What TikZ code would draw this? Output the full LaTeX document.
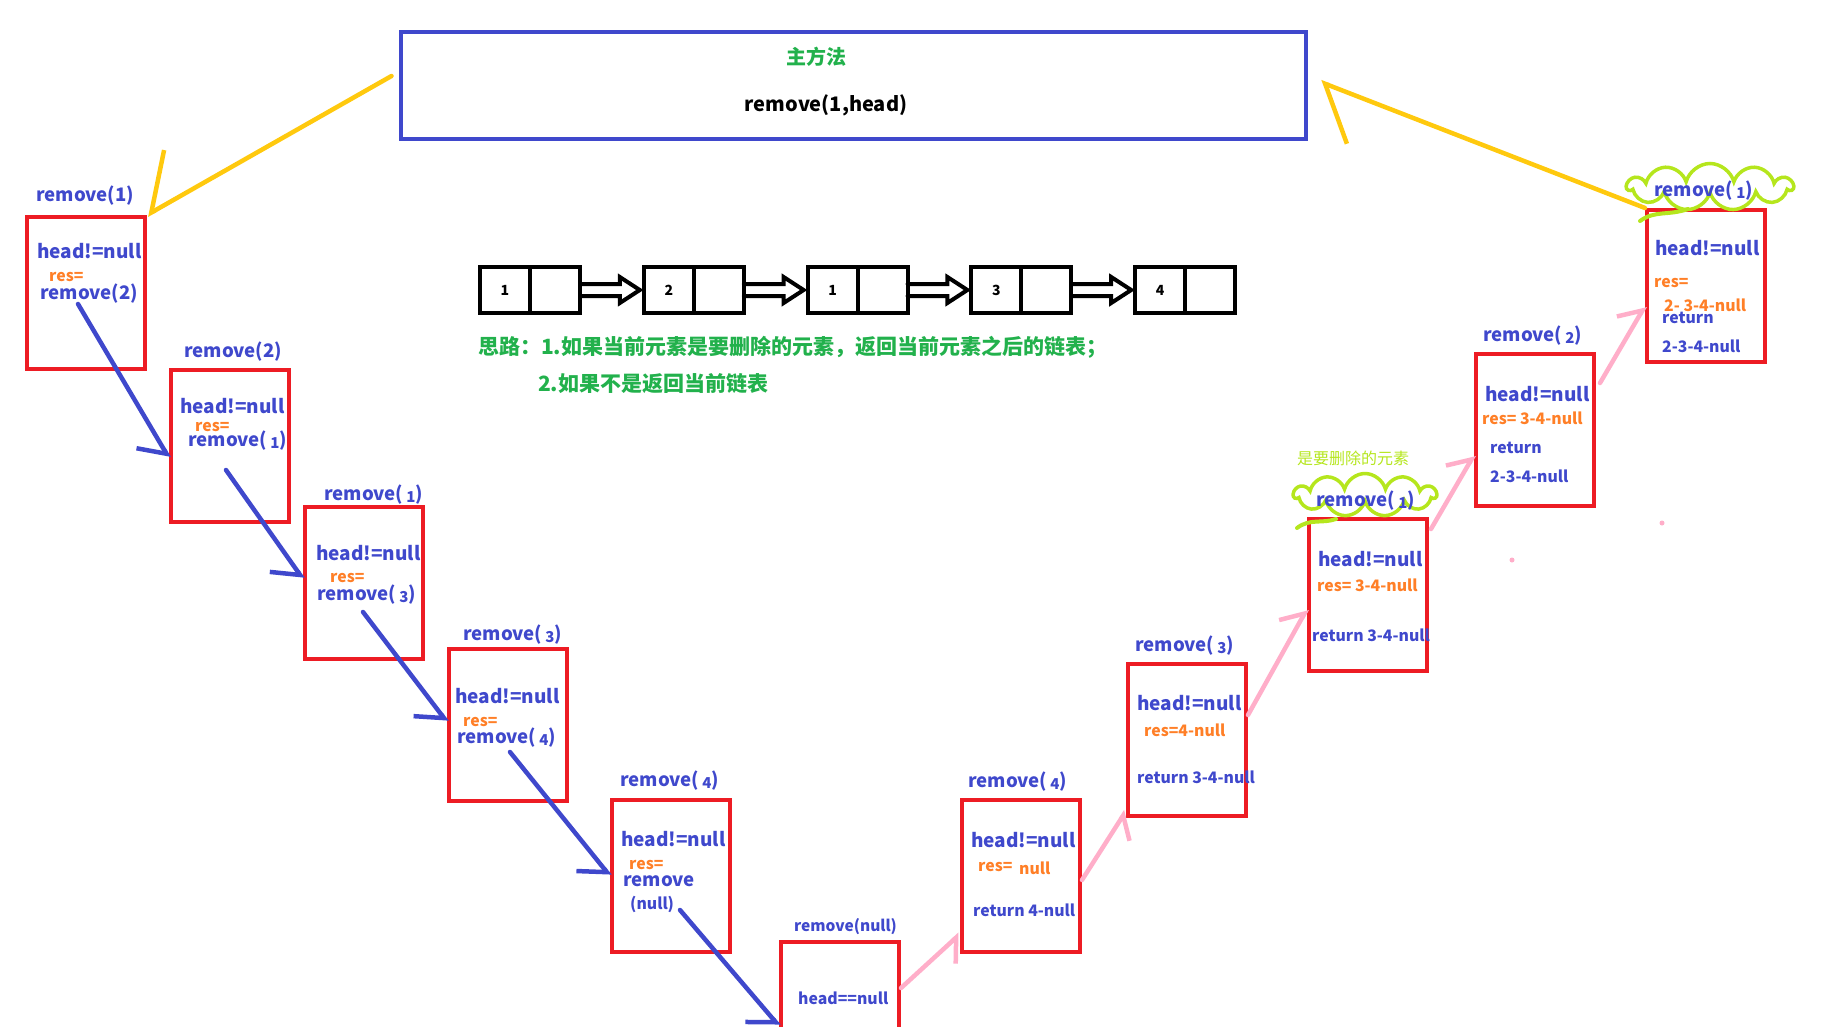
\documentclass[tikz,border=0pt]{standalone}
\usepackage{fontspec}
\newfontfamily\cjk{Noto Sans CJK SC}
\usetikzlibrary{arrows.meta,positioning,calc,shapes.symbols}
\definecolor{pblue}{HTML}{3F48CC}
\definecolor{pred}{HTML}{ED1C24}
\definecolor{porange}{HTML}{FF7F27}
\definecolor{pgreen}{HTML}{22B14C}
\definecolor{plime}{HTML}{B5E61D}
\definecolor{ppink}{HTML}{FFAEC9}
\definecolor{pyellow}{HTML}{FFC90E}
\newcommand{\dg}[1]{\,\raisebox{-1.5pt}{\fontsize{15}{15}\selectfont #1}}

\begin{document}
\begin{tikzpicture}[x=1pt, y=-1pt, font=\cjk\bfseries, line cap=round,
  box/.style={draw=pred, line width=4pt, minimum width=118pt,
              minimum height=152pt, inner sep=0pt},
  lbl/.style={anchor=west, inner sep=0pt, text=pblue,
              font=\cjk\bfseries\fontsize{18.6}{19}\selectfont},
  hd/.style={lbl, font=\cjk\bfseries\fontsize{19}{19}\selectfont},
  rs/.style={lbl, text=porange, font=\cjk\bfseries\fontsize{15.8}{16}\selectfont},
  sm/.style={lbl, font=\cjk\bfseries\fontsize{15.8}{16}\selectfont},
  cell/.style={draw, line width=4pt, minimum width=50pt, minimum height=46pt,
               outer sep=0pt, inner sep=0pt,
               font=\cjk\bfseries\fontsize{14}{14}\selectfont},
  fat/.style={line width=4pt, to path={let \p1=(\tikztostart), \p2=(\tikztotarget) in
      (\x1,\y1+6pt) -- (\x2-24pt,\y1+6pt) -- (\x2-24pt,\y1+13pt) -- (\x2-4pt,\y1)
      -- (\x2-24pt,\y1-13pt) -- (\x2-24pt,\y1-6pt) -- (\x1,\y1-6pt)}},
  callarrow/.style={pblue, line width=4.5pt,
                    -{Straight Barb[right, length=20pt, width=46pt]}},
  retarrow/.style={ppink, line width=4.5pt,
                   -{Straight Barb[#1, length=18pt, width=38pt]}},
  mainarrow/.style={pyellow, line width=4.5pt,
                    -{Straight Barb[#1, length=42pt, width=96pt]}},
  puff/.style={cloud, cloud puffs=11, cloud ignores aspect, draw=plime,
               line width=3.5pt, inner sep=0pt},
  tail/.style={plime, line width=4pt}]
  \useasboundingbox (0,0) rectangle (1834,1026);
  \clip (0,0) rectangle (1834,1026);

  % main method
  \node[draw=pblue, line width=4pt, minimum width=905pt, minimum height=107pt]
    (main) at (853,85) {};
  \node[text=pgreen, font=\cjk\bfseries\fontsize{20}{20}\selectfont] (mtitle) at (816,57) {主方法};
  \node[font=\cjk\bfseries\fontsize{20}{20}\selectfont] (mcall) at (826,105) {remove(1,head)};

  % linked list
  \foreach \v [count=\i] in {1,2,1,3,4}{
    \node[cell] (v\i) at ({505+163.8*(\i-1)},290) {\v};
    \node[cell, right=0pt of v\i] (n\i) {};}
  \foreach \i/\j in {1/2,2/3,3/4,4/5}
    \draw[fat] (n\i.east) to (v\j.west);
  \node[lbl, text=pgreen, font=\cjk\bfseries\fontsize{21}{21}\selectfont] (idea1) at (478,347)
    {思路：1.如果当前元素是要删除的元素，返回当前元素之后的链表；};
  \node[lbl, text=pgreen, font=\cjk\bfseries\fontsize{21}{21}\selectfont] (idea2) at (538,384)
    {2.如果不是返回当前链表};

  % call frames
  \foreach \n/\x/\y in {1/86/293, 2/230/446, 3/364/583, 4/508/725, 5/671/876,
      6/840/1018, 7/1021/876, 8/1187/740, 9/1368/595, 10/1535/430, 11/1706/286}
    \node[box] (b\n) at (\x,\y) {};

  % clouds round the removed frame and the result
  \node[puff, minimum width=142pt, minimum height=43pt] (k9) at (1365,495) {};
  \node[puff, minimum width=165pt, minimum height=47pt] (k11) at (1710,187) {};
  \draw[tail] (1640,221) .. controls (1655,210) and (1668,216) .. (1688,209);
  \draw[tail] (1297,528) .. controls (1310,518) and (1322,524) .. (1336,519);

  \node[lbl] (t1) at (36,196) {remove(1)};
  \node[lbl] (t2) at (184,352) {remove(2)};
  \node[lbl] (t3) at (324,495) {remove(\dg1)};
  \node[lbl] (t4) at (463,635) {remove(\dg3)};
  \node[lbl] (t5) at (620,781) {remove(\dg4)};
  \node[sm, font=\cjk\bfseries\fontsize{15.5}{16}\selectfont] (t6) at (794,927) {remove(null)};
  \node[lbl] (t7) at (968,782) {remove(\dg4)};
  \node[lbl] (t8) at (1135,646) {remove(\dg3)};
  \node[lbl] (t9) at (1316,501) {remove(\dg1)};
  \node[lbl] (t10) at (1483,336) {remove(\dg2)};
  \node[lbl] (t11) at (1654,191) {remove(\dg1)};
  \node[text=plime, font=\cjk\fontsize{16}{16}\selectfont] (del) at (1353,458) {是要删除的元素};

  % box texts, going down
  \node[hd] (h1) at (37,251) {head!=null};
  \node[rs] (r1) at (49,277) {res=};
  \node[lbl] (c1) at (40,294) {remove(2)};
  \node[hd] (h2) at (180,406) {head!=null};
  \node[rs] (r2) at (195,427) {res=};
  \node[lbl] (c2) at (188,441) {remove(\dg1)};
  \node[hd] (h3) at (316,553) {head!=null};
  \node[rs] (r3) at (330,578) {res=};
  \node[lbl] (c3) at (317,595) {remove(\dg3)};
  \node[hd] (h4) at (455,696) {head!=null};
  \node[rs] (r4) at (463,722) {res=};
  \node[lbl] (c4) at (457,738) {remove(\dg4)};
  \node[hd] (h5) at (621,839) {head!=null};
  \node[rs] (r5) at (629,865) {res=};
  \node[lbl] (c5) at (623,881) {remove};
  \node[sm] (c5b) at (630,904) {(null)};
  \node[sm] (h6) at (798,998) {head==null};

  % box texts, going up
  \node[hd] (h7) at (971,840) {head!=null};
  \node[rs] (r7) at (978,867) {res=};
  \node[rs] (r7b) at (1019,868) {null};
  \node[sm] (e7) at (973,910) {return 4-null};
  \node[hd] (h8) at (1137,703) {head!=null};
  \node[rs] (r8) at (1144,730) {res=4-null};
  \node[sm] (e8) at (1137,777) {return 3-4-null};
  \node[hd] (h9) at (1318,559) {head!=null};
  \node[rs] (r9) at (1317,585) {res= 3-4-null};
  \node[sm] (e9) at (1312,635) {return 3-4-null};
  \node[hd] (h10) at (1485,394) {head!=null};
  \node[rs] (r10) at (1482,418) {res= 3-4-null};
  \node[sm] (e10) at (1490,448) {return};
  \node[sm] (e10b) at (1490,476) {2-3-4-null};
  \node[hd] (h11) at (1655,248) {head!=null};
  \node[rs] (r11) at (1654,283) {res=};
  \node[rs] (r11b) at (1664,305) {2- 3-4-null};
  \node[sm] (e11) at (1662,318) {return};
  \node[sm] (e11b) at (1662,346) {2-3-4-null};

  % recursive calls
  \coordinate (s1) at (78,304);
  \coordinate (s2) at (226,470);
  \coordinate (s3) at (363,612);
  \coordinate (s4) at (510,752);
  \coordinate (s5) at (680,910);
  \draw[callarrow] (s1) -- ($(b2.west)+(0,12)$);
  \draw[callarrow] (s2) -- ($(b3.west)+(0,-4)$);
  \draw[callarrow] (s3) -- ($(b4.west)+(0,-3)$);
  \draw[callarrow] (s4) -- (b5.west);
  \draw[callarrow] (s5) -- ($(b6.west)+(0,8)$);

  % returns
  \draw[retarrow=right] ($(b6.east)+(0,-30)$) -- ($(b7.south west)+(0,-20)$);
  \draw[retarrow=right] ($(b7.east)+(0,4)$) -- ($(b8.south west)+(0,-7)$);
  \draw[retarrow=left] ($(b8.east)+(0,-25)$) -- ($(b9.west)+(0,14)$);
  \draw[retarrow=left] ($(b9.north east)+(2,12)$) -- ($(b10.west)+(0,25)$);
  \draw[retarrow=left] ($(b10.north east)+(4,31)$) -- ($(b11.west)+(0,20)$);
  \draw[mainarrow=right] ($(main.west)+(-7,-9)$) -- (b1.north east);
  \draw[mainarrow=left] (b11.north west) -- ($(main.east)+(13,-3)$);

  % stray dots
  \fill[ppink] (1662,523) circle (2.5pt);
  \fill[ppink] (1512,560) circle (2.5pt);
\end{tikzpicture}
\end{document}
